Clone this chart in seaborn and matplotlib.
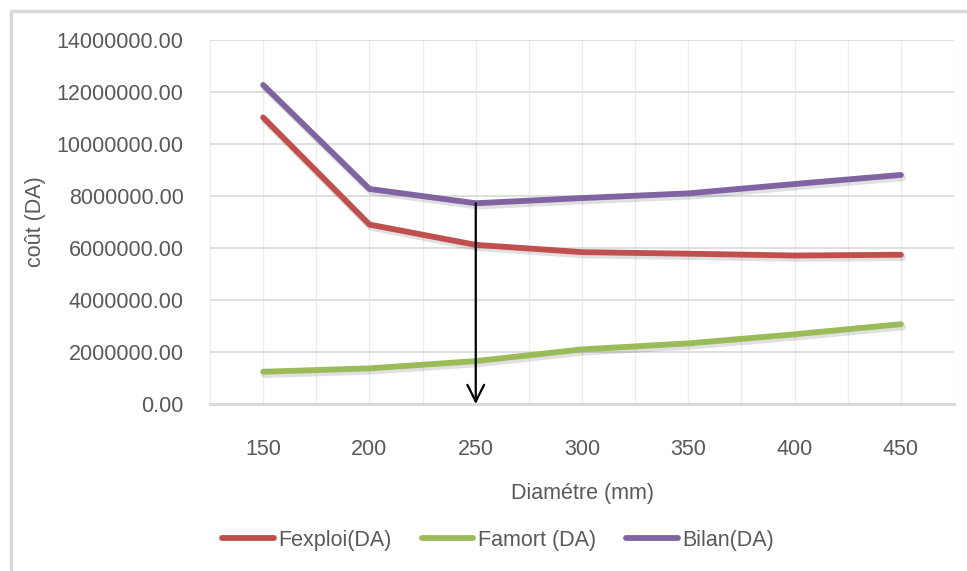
import matplotlib
matplotlib.use("Agg")
import matplotlib.pyplot as plt
import matplotlib.patheffects as pe
from matplotlib.ticker import MultipleLocator, FuncFormatter
from matplotlib.lines import Line2D
from matplotlib.patches import Rectangle
import seaborn as sns
import pandas as pd

diametres = [150, 200, 250, 300, 350, 400, 450]
fexploi = [11020000, 6900000, 6120000, 5840000, 5780000, 5710000, 5740000]
famort = [1240000, 1370000, 1650000, 2100000, 2330000, 2680000, 3070000]
bilan = [12270000, 8270000, 7720000, 7920000, 8100000, 8460000, 8810000]
series_names = ["Fexploi(DA)", "Famort (DA)", "Bilan(DA)"]
series_colors = ["#c0504d", "#9bbb59", "#8064a2"]
y_ticks = [0, 2000000, 4000000, 6000000, 8000000, 10000000, 12000000, 14000000]
x_ticks = [150, 200, 250, 300, 350, 400, 450]

df = pd.DataFrame({
    "Diametre": diametres * 3,
    "cout": fexploi + famort + bilan,
    "serie": [series_names[0]] * 7 + [series_names[1]] * 7 + [series_names[2]] * 7,
})

sns.set_style("white")
plt.rcParams["font.family"] = ["Liberation Sans", "DejaVu Sans"]
txt = "#595959"
fs = 15.5

fig = plt.figure(figsize=(9.67, 5.71), dpi=100)
ax = fig.add_axes([0.2172, 0.2925, 0.9866 - 0.2172, 0.930 - 0.2925])

shadow = [pe.SimpleLineShadow(offset=(1.2, -2.0), shadow_color="#000000", alpha=0.12, linewidth=5.0),
          pe.Normal()]
sns.lineplot(data=df, x="Diametre", y="cout", hue="serie", hue_order=series_names,
             palette=series_colors, linewidth=4.2, ax=ax, legend=False,
             path_effects=shadow, solid_capstyle="round", zorder=3)

ax.set_xlim(125, 475)
ax.set_ylim(0, 14000000)
ax.set_xticks(x_ticks)
ax.xaxis.set_minor_locator(MultipleLocator(25))
ax.set_yticks(y_ticks)
ax.yaxis.set_major_formatter(FuncFormatter(lambda v, p: f"{v:.2f}"))
ax.grid(True, which="major", axis="y", color="#d9d9d9", linewidth=1.2)
ax.grid(True, which="both", axis="x", color="#ececec", linewidth=1.0)
ax.set_axisbelow(True)
for s in ["top", "right", "left"]:
    ax.spines[s].set_visible(False)
ax.spines["bottom"].set_color("#d9d9d9")
ax.spines["bottom"].set_linewidth(2.2)
ax.tick_params(axis="both", which="both", length=0, colors=txt, labelsize=fs)
ax.tick_params(axis="x", pad=25)
ax.tick_params(axis="y", pad=19)
ax.set_xlabel("Diamétre (mm)", color=txt, fontsize=fs, labelpad=17)
ax.set_ylabel("coût (DA)", color=txt, fontsize=fs, labelpad=8)

ax.annotate("", xy=(diametres[2], 0), xytext=(diametres[2], bilan[2]),
            arrowprops=dict(arrowstyle="->", color="black", lw=1.6,
                            mutation_scale=30, shrinkA=0, shrinkB=0), zorder=5)

handles = [Line2D([0], [0], color=c, lw=4.2, solid_capstyle="round") for c in series_colors]
leg = fig.legend(handles, series_names, loc="center", bbox_to_anchor=(0.515, 0.054),
                 ncol=3, frameon=False, fontsize=fs, handlelength=2.4,
                 handletextpad=0.2, columnspacing=1.4)
for t in leg.get_texts():
    t.set_color(txt)

fig.add_artist(Rectangle((11 / 967, -0.05), 1.1, 1.05 - 11 / 571, transform=fig.transFigure,
                         fill=False, edgecolor="#d9d9d9", linewidth=2.5))

fig.savefig("out.png", dpi=100)
